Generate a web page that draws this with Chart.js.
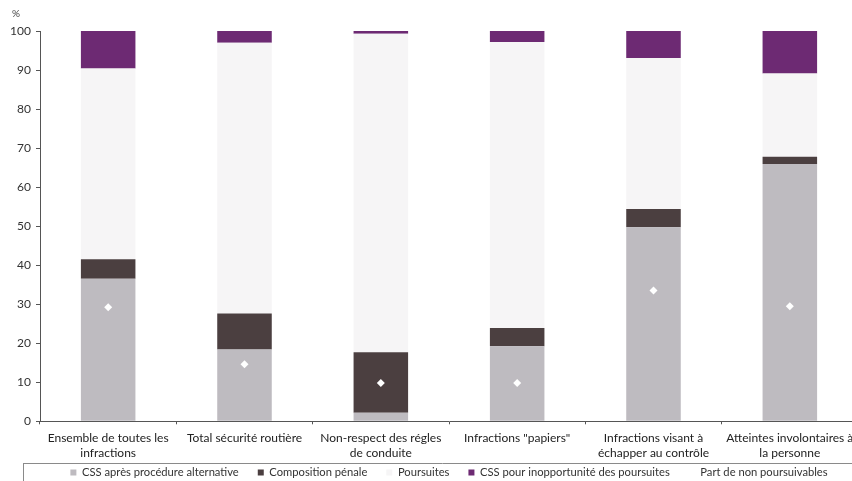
<!DOCTYPE html>
<html><head><meta charset="utf-8">
<script src="https://cdn.jsdelivr.net/npm/chart.js@4.4.1/dist/chart.umd.min.js"></script>
<style>
html,body{margin:0;padding:0;background:#fff;overflow:hidden}
#wrap{width:852px;height:481px;overflow:hidden;position:relative;background:#fff}
#inner{width:862px;height:488px;position:absolute;left:0;top:0}
</style></head><body>
<div id="wrap"><div id="inner"><canvas id="c"></canvas></div></div>
<script>
const categories = [
  ["Ensemble de toutes les", "infractions"],
  "Total sécurité routière",
  ["Non-respect des régles", "de conduite"],
  "Infractions \"papiers\"",
  ["Infractions visant à", "échapper au contrôle"],
  ["Atteintes involontaires à", "la personne"]
];
const seriesNames = [
  "CSS après procédure alternative",
  "Composition pénale",
  "Poursuites",
  "CSS pour inopportunité des poursuites",
  "Part de non poursuivables"
];
const cssAlternative = [36.5, 18.4, 2.2, 19.2, 49.7, 65.9];
const compositionPenale = [5.0, 9.2, 15.5, 4.7, 4.7, 1.9];
const poursuites = [48.9, 69.4, 81.6, 73.3, 38.7, 21.3];
const cssInopportunite = [9.6, 3.0, 0.7, 2.8, 6.9, 10.9];
const nonPoursuivables = [29.2, 14.6, 9.8, 9.8, 33.5, 29.5];
const yTicks = [0, 10, 20, 30, 40, 50, 60, 70, 80, 90, 100];

const FONT = "Lato";
const colors = ["#bebbc0", "#4b3f40", "#f6f5f6", "#6d2a73", "#ffffff"];

const extras = {
  id: "extras",
  afterLayout(chart) {
    chart.scales.x.bottom = chart.height;
  },
  afterDraw(chart) {
    const ctx = chart.ctx;
    const y = chart.scales.y;
    ctx.save();
    ctx.fillStyle = "#444";
    ctx.font = "10px " + FONT;
    ctx.textAlign = "center";
    ctx.textBaseline = "middle";
    ctx.fillText("%", 16, y.top - 17);
    ctx.strokeStyle = "#8a8a8a";
    ctx.lineWidth = 1;
    ctx.beginPath();
    ctx.moveTo(23, 463.5); ctx.lineTo(862, 463.5);
    ctx.moveTo(23.5, 463); ctx.lineTo(23.5, 488);
    ctx.stroke();
    ctx.restore();
  }
};

const barDs = (i, data) => ({
  type: "bar",
  label: seriesNames[i],
  data: data,
  backgroundColor: colors[i],
  borderColor: colors[i],
  borderWidth: 0,
  stack: "s",
  order: 1,
  barPercentage: 0.4,
  categoryPercentage: 1.0
});

new Chart(document.getElementById("c"), {
  data: {
    labels: categories,
    datasets: [
      barDs(0, cssAlternative),
      barDs(1, compositionPenale),
      barDs(2, poursuites),
      barDs(3, cssInopportunite),
      {
        type: "line",
        label: seriesNames[4],
        data: nonPoursuivables,
        showLine: false,
        backgroundColor: "#ffffff",
        borderColor: "#ffffff",
        pointStyle: "rectRot",
        pointRadius: 4,
        pointBackgroundColor: "#ffffff",
        pointBorderColor: "#ffffff",
        pointBorderWidth: 0,
        stack: "points",
        order: 0
      }
    ]
  },
  options: {
    responsive: true,
    maintainAspectRatio: false,
    animation: false,
    layout: { padding: { top: 31, right: 3, left: 0, bottom: 0 } },
    scales: {
      x: {
        stacked: true,
        grid: { display: true, drawOnChartArea: false, drawTicks: true, tickLength: 3, color: "#555", offset: true },
        border: { display: true, color: "#555", width: 1 },
        ticks: { color: "#222", font: { family: FONT, size: 12 }, padding: 7, maxRotation: 0, autoSkip: false },
        afterFit(scale) { scale.height = 26.5; }
      },
      y: {
        stacked: true,
        min: 0, max: 100,
        afterBuildTicks(scale) { scale.ticks = yTicks.map(v => ({ value: v })); },
        grid: { display: true, drawOnChartArea: false, drawTicks: true, tickLength: 4, color: "#555" },
        border: { display: true, color: "#555", width: 1 },
        ticks: { color: "#333", font: { family: FONT, size: 12 }, padding: 5 },
        afterFit(scale) { scale.width = 40; }
      }
    },
    plugins: {
      tooltip: { enabled: false },
      legend: {
        position: "bottom",
        fullSize: false,
        align: "center",
        labels: {
          sort: (a, b) => a.datasetIndex - b.datasetIndex,
          boxWidth: 6, boxHeight: 6,
          padding: 19,
          color: "#333",
          font: { family: FONT, size: 11.2 }
        }
      }
    }
  },
  plugins: [extras]
});
</script>
</body></html>
